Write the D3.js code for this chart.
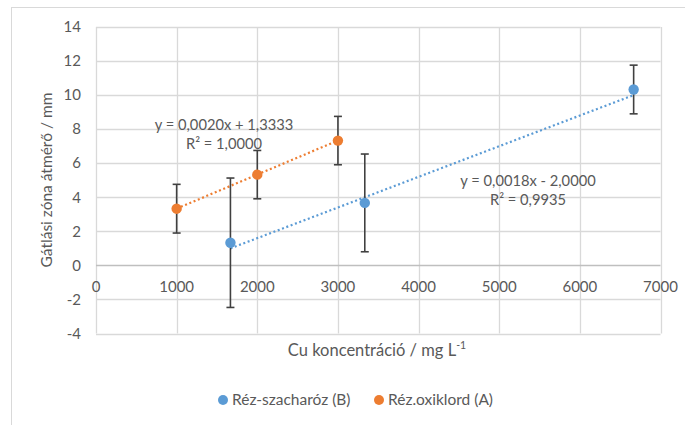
<!DOCTYPE html>
<html>
<head>
<meta charset="utf-8">
<script src="https://cdn.jsdelivr.net/npm/d3@7"></script>
<style>
  html, body { margin: 0; padding: 0; background: #fff; }
  svg { display: block; font-family: Lato, "Open Sans", sans-serif; }
</style>
</head>
<body>
<svg id="chart" width="685" height="425"></svg>
<script>
// Series: Cu concentration (mg/L), inhibition zone diameter (mm), error (±mm)
const seriesNames = ["Réz-szacharóz (B)", "Réz.oxiklord (A)"];
const seriesColors = ["#5b9bd5", "#ed7d31"];

const xB = [1667, 3333, 6667];
const yB = [1.33, 3.67, 10.33];
const errB = [3.8, 2.87, 1.43];

const xA = [1000, 2000, 3000];
const yA = [3.33, 5.33, 7.33];
const errA = [1.43, 1.42, 1.42];

// Linear trendlines (slope, intercept) and their labels
const trendB = { slope: 0.0018, intercept: -2.0, from: 1667, to: 6667 };
const trendA = { slope: 0.0020, intercept: 1.3333, from: 1000, to: 3000 };
const eqLabelsA = ["y = 0,0020x + 1,3333", "R² = 1,0000"];
const eqLabelsB = ["y = 0,0018x - 2,0000", "R² = 0,9935"];

const xTicks = [0, 1000, 2000, 3000, 4000, 5000, 6000, 7000];
const yTicks = [-4, -2, 0, 2, 4, 6, 8, 10, 12, 14];

const svg = d3.select("#chart");
const textColor = "#595959";
const gridColor = "#d9d9d9";

// chart frame
svg.append("rect")
  .attr("x", 11.5).attr("y", 7.5)
  .attr("width", 700).attr("height", 440)
  .attr("fill", "none").attr("stroke", gridColor).attr("stroke-width", 1);

const x = d3.scaleLinear().domain([0, 7000]).range([96, 660.5]);
const y = d3.scaleLinear().domain([-4, 14]).range([333.5, 27]);

// gridlines
const grid = svg.append("g");
grid.selectAll("line.v").data(xTicks).join("line")
  .attr("x1", d => Math.round(x(d)) + 0.5).attr("x2", d => Math.round(x(d)) + 0.5)
  .attr("y1", y(14)).attr("y2", y(-4))
  .attr("stroke", gridColor).attr("stroke-width", 1.3);
grid.selectAll("line.h").data(yTicks).join("line")
  .attr("x1", x(0)).attr("x2", x(7000))
  .attr("y1", d => Math.round(y(d)) + 0.5).attr("y2", d => Math.round(y(d)) + 0.5)
  .attr("stroke", d => d === 0 ? "#bfbfbf" : gridColor).attr("stroke-width", 1.3);

// y tick labels
svg.append("g").selectAll("text").data(yTicks).join("text")
  .attr("x", 81).attr("y", d => y(d))
  .attr("dy", "0.35em").attr("text-anchor", "end")
  .attr("fill", textColor).attr("font-size", 15)
  .text(d => d);

// x tick labels, placed under the zero line
svg.append("g").selectAll("text").data(xTicks).join("text")
  .attr("x", d => x(d)).attr("y", y(0) + 22)
  .attr("dy", "0.35em").attr("dy", 0).attr("y", y(0) + 27)
  .attr("text-anchor", "middle")
  .attr("fill", textColor).attr("font-size", 15)
  .text(d => d);

// axis titles
svg.append("text")
  .attr("transform", `translate(52,180) rotate(-90)`)
  .attr("text-anchor", "middle")
  .attr("fill", textColor).attr("font-size", 15.5)
  .text("Gátlási zóna átmérő / mm");

const xt = svg.append("text")
  .attr("x", 377).attr("y", 356)
  .attr("text-anchor", "middle")
  .attr("fill", textColor).attr("font-size", 16.5);
xt.append("tspan").text("Cu koncentráció / mg L");
xt.append("tspan").attr("dy", -7).attr("font-size", 10.5).text("-1");

// trendlines
function trend(t, color) {
  svg.append("line")
    .attr("x1", x(t.from)).attr("y1", y(t.slope * t.from + t.intercept))
    .attr("x2", x(t.to)).attr("y2", y(t.slope * t.to + t.intercept))
    .attr("stroke", color).attr("stroke-width", 2.2)
    .attr("stroke-dasharray", "2,2.6");
}
trend(trendB, seriesColors[0]);
trend(trendA, seriesColors[1]);

// error bars and markers
function series(xs, ys, es, color) {
  const g = svg.append("g");
  const data = xs.map((d, i) => ({ x: d, y: ys[i], e: es[i] }));
  const eb = g.selectAll("g.err").data(data).join("g");
  eb.append("line")
    .attr("x1", d => x(d.x)).attr("x2", d => x(d.x))
    .attr("y1", d => y(d.y + d.e)).attr("y2", d => y(d.y - d.e))
    .attr("stroke", "#404040").attr("stroke-width", 1.6);
  eb.append("line")
    .attr("x1", d => x(d.x) - 4).attr("x2", d => x(d.x) + 4)
    .attr("y1", d => y(d.y + d.e)).attr("y2", d => y(d.y + d.e))
    .attr("stroke", "#404040").attr("stroke-width", 1.6);
  eb.append("line")
    .attr("x1", d => x(d.x) - 4).attr("x2", d => x(d.x) + 4)
    .attr("y1", d => y(d.y - d.e)).attr("y2", d => y(d.y - d.e))
    .attr("stroke", "#404040").attr("stroke-width", 1.6);
  g.selectAll("circle").data(data).join("circle")
    .attr("cx", d => x(d.x)).attr("cy", d => y(d.y))
    .attr("r", 5.2).attr("fill", color);
}
series(xB, yB, errB, seriesColors[0]);
series(xA, yA, errA, seriesColors[1]);

// trendline equations
function eqLabel(lines, cx, cy) {
  svg.append("g").selectAll("text").data(lines).join("text")
    .attr("x", cx).attr("y", (d, i) => cy + i * 19)
    .attr("dy", "0.35em").attr("text-anchor", "middle")
    .attr("fill", textColor).attr("font-size", 14.7)
    .text(d => d);
}
eqLabel(eqLabelsA, 224, 125);
eqLabel(eqLabelsB, 528, 181);

// legend
const legend = svg.append("g");
const legendX = [223, 379];
seriesNames.forEach((name, i) => {
  legend.append("circle")
    .attr("cx", legendX[i]).attr("cy", 400).attr("r", 5)
    .attr("fill", seriesColors[i]);
  legend.append("text")
    .attr("x", legendX[i] + 9).attr("y", 400).attr("dy", "0.35em")
    .attr("fill", textColor).attr("font-size", 15.5)
    .text(name);
});
</script>
</body>
</html>
